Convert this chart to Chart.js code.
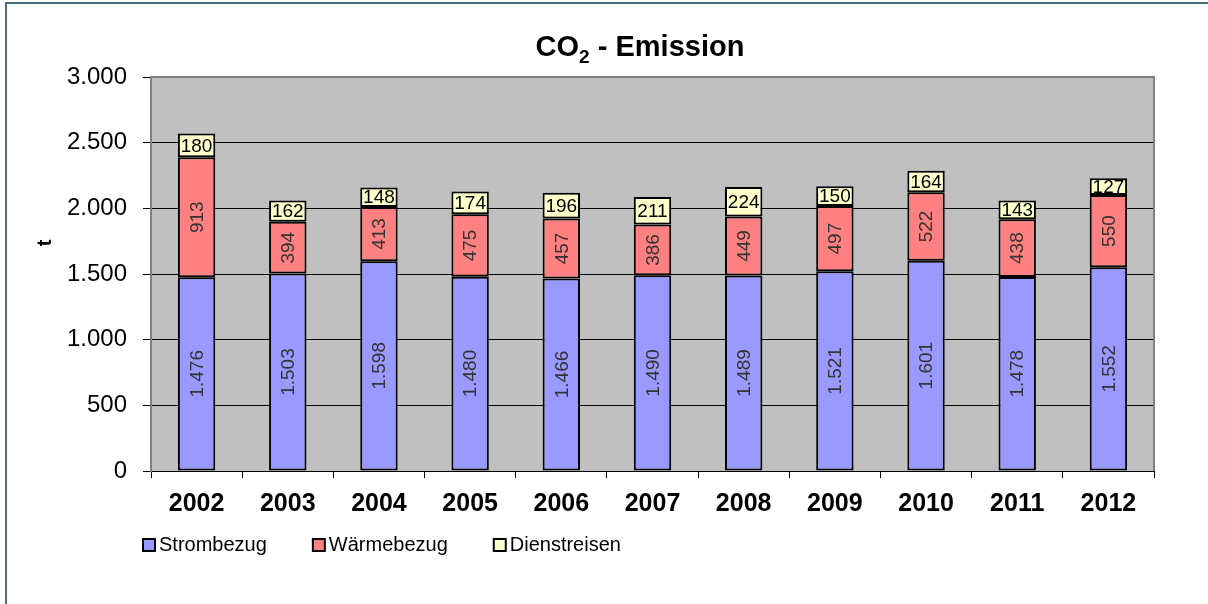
<!DOCTYPE html>
<html>
<head>
<meta charset="utf-8">
<script src="https://cdn.jsdelivr.net/npm/chart.js@4.4.1/dist/chart.umd.min.js"></script>
<style>
  html, body { margin: 0; padding: 0; background: #fff; }
  #wrap { width: 1208px; height: 604px; position: relative; }
</style>
</head>
<body>
<div id="wrap"><canvas id="co2Chart" width="1208" height="604"></canvas></div>
<script>
// Jahre und Werte (t CO2)
const years = ['2002', '2003', '2004', '2005', '2006', '2007', '2008', '2009', '2010', '2011', '2012'];
const strombezug = [1476, 1503, 1598, 1480, 1466, 1490, 1489, 1521, 1601, 1478, 1552];
const waermebezug = [913, 394, 413, 475, 457, 386, 449, 497, 522, 438, 550];
const dienstreisen = [180, 162, 148, 174, 196, 211, 224, 150, 164, 143, 127];
const seriesNames = ['Strombezug', 'Wärmebezug', 'Dienstreisen'];
const yTicks = [0, 500, 1000, 1500, 2000, 2500, 3000];

const colors = ['#9999FF', '#FF8080', '#FFFFCC'];
const fmt = v => v.toLocaleString('de-DE');

// Hintergrund, Rahmen
const framePlugin = {
    id: 'frame',
    beforeDraw(chart) {
        const ctx = chart.ctx, a = chart.chartArea;
        ctx.save();
        ctx.fillStyle = '#fff';
        ctx.fillRect(0, 0, chart.width, chart.height);
        ctx.strokeStyle = '#4A6F7E';
        ctx.lineWidth = 2;
        ctx.beginPath();
        ctx.moveTo(6, chart.height);
        ctx.lineTo(6, 3);
        ctx.lineTo(chart.width, 3);
        ctx.stroke();
        ctx.fillStyle = '#C0C0C0';
        ctx.fillRect(a.left, a.top, a.right - a.left, a.bottom - a.top);
        ctx.restore();
    },
    beforeDatasetsDraw(chart) {
        const ctx = chart.ctx, a = chart.chartArea;
        ctx.save();
        ctx.strokeStyle = '#808080';
        ctx.lineWidth = 2;
        ctx.beginPath();
        ctx.moveTo(a.left, a.bottom);
        ctx.lineTo(a.left, a.top);
        ctx.lineTo(a.right, a.top);
        ctx.lineTo(a.right, a.bottom);
        ctx.stroke();
        ctx.restore();
    }
};

// Werte in den Balken
const labelPlugin = {
    id: 'barLabels',
    afterDatasetsDraw(chart) {
        const ctx = chart.ctx;
        ctx.save();
        ctx.font = '19px Arial, "Liberation Sans", sans-serif';
        ctx.textAlign = 'center';
        ctx.textBaseline = 'middle';
        chart.data.datasets.forEach((ds, i) => {
            const meta = chart.getDatasetMeta(i);
            meta.data.forEach((bar, j) => {
                const cy = (bar.y + bar.base) / 2;
                const txt = fmt(ds.data[j]);
                if (i < 2) {
                    ctx.fillStyle = '#333';
                    ctx.save();
                    ctx.translate(bar.x + 1, cy);
                    ctx.rotate(-Math.PI / 2);
                    ctx.fillText(txt, 0, 0);
                    ctx.restore();
                } else {
                    ctx.fillStyle = '#000';
                    ctx.fillText(txt, bar.x, cy + 1);
                }
            });
        });
        ctx.restore();
    }
};

// Titel, Achsentitel, Legende
const textPlugin = {
    id: 'texts',
    afterDraw(chart) {
        const ctx = chart.ctx, a = chart.chartArea;
        ctx.save();
        ctx.fillStyle = '#000';
        ctx.textBaseline = 'alphabetic';
        ctx.textAlign = 'left';
        // Titel mit tiefgestellter 2
        const big = 'bold 29px Arial, "Liberation Sans", sans-serif';
        const small = 'bold 19px Arial, "Liberation Sans", sans-serif';
        ctx.font = big;
        const w1 = ctx.measureText('CO').width;
        const w3 = ctx.measureText(' - Emission').width;
        ctx.font = small;
        const w2 = ctx.measureText('2').width;
        let x = 640 - (w1 + w2 + w3) / 2;
        ctx.font = big;
        ctx.fillText('CO', x, 56);
        ctx.font = small;
        ctx.fillText('2', x + w1, 63);
        ctx.font = big;
        ctx.fillText(' - Emission', x + w1 + w2, 56);

        // y-Achsentitel
        ctx.font = 'bold 20px Arial, "Liberation Sans", sans-serif';
        ctx.save();
        ctx.translate(45, 243);
        ctx.rotate(-Math.PI / 2);
        ctx.textAlign = 'center';
        ctx.textBaseline = 'middle';
        ctx.fillText('t', 0, 0);
        ctx.restore();

        // Legende
        ctx.font = '20px Arial, "Liberation Sans", sans-serif';
        ctx.textBaseline = 'middle';
        let lx = a.left - 8;
        const ly = 545;
        seriesNames.forEach((name, i) => {
            ctx.fillStyle = colors[i];
            ctx.fillRect(lx, ly - 6, 12, 12);
            ctx.strokeStyle = '#000';
            ctx.lineWidth = 2;
            ctx.strokeRect(lx, ly - 6, 12, 12);
            ctx.fillStyle = '#000';
            ctx.fillText(name, lx + 16, ly);
            lx += 16 + ctx.measureText(name).width + 46;
        });
        ctx.restore();
    }
};

const ctx = document.getElementById('co2Chart').getContext('2d');
const co2Chart = new Chart(ctx, {
    type: 'bar',
    data: {
        labels: years,
        datasets: [strombezug, waermebezug, dienstreisen].map((d, i) => ({
            label: seriesNames[i],
            data: d,
            backgroundColor: colors[i],
            borderColor: '#000',
            borderWidth: 2,
            borderSkipped: false,
            barPercentage: 0.41,
            categoryPercentage: 1.0
        }))
    },
    options: {
        responsive: false,
        animation: false,
        layout: { padding: { top: 77, right: 54, left: 0, bottom: 0 } },
        plugins: {
            legend: { display: false },
            title: { display: false },
            tooltip: { enabled: false }
        },
        scales: {
            x: {
                stacked: true,
                afterFit(scale) { scale.height = 133; },
                grid: {
                    offset: true,
                    drawOnChartArea: false,
                    tickLength: 7,
                    color: '#000'
                },
                border: { color: '#000', width: 1 },
                ticks: {
                    padding: 11,
                    color: '#000',
                    font: { family: 'Arial, "Liberation Sans", sans-serif', size: 25, weight: 'bold' }
                }
            },
            y: {
                stacked: true,
                min: 0,
                max: 3000,
                afterFit(scale) { scale.width = 151; },
                afterBuildTicks(scale) { scale.ticks = yTicks.map(v => ({ value: v })); },
                grid: { color: '#000', tickLength: 8, lineWidth: 1 },
                border: { color: '#808080', width: 2 },
                ticks: {
                    padding: 16,
                    color: '#000',
                    font: { family: 'Arial, "Liberation Sans", sans-serif', size: 24 },
                    callback: v => fmt(v)
                }
            }
        }
    },
    plugins: [framePlugin, labelPlugin, textPlugin]
});
</script>
</body>
</html>
